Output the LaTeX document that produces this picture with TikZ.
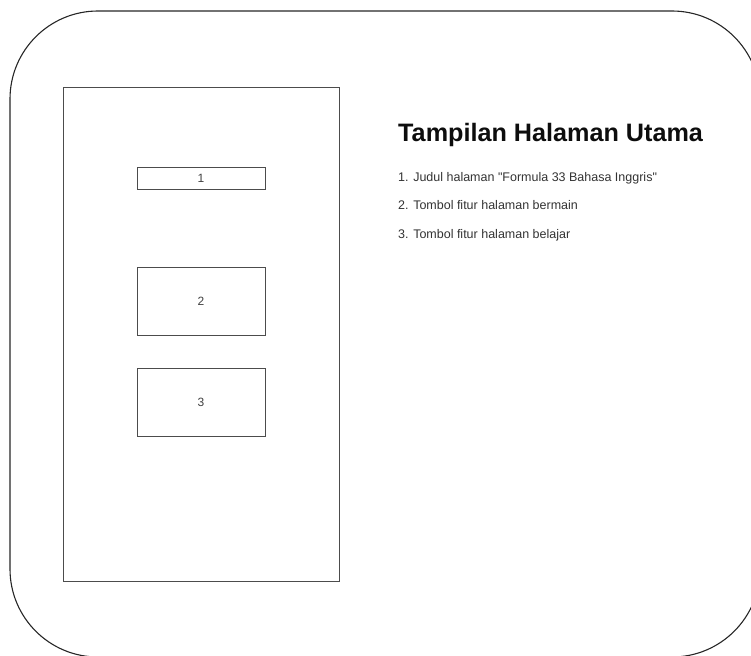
\documentclass[tikz,border=0pt]{standalone}
\usepackage{fontspec}
\setmainfont{Liberation Sans}[Ligatures=TeXOff]
\begin{document}
\begin{tikzpicture}[x=1pt,y=-1pt,
  frame/.style={draw=black!85,line width=1.1pt},
  widget/.style={draw=black!70,line width=1pt},
  numlabel/.style={font=\fontsize{12}{14}\selectfont,text=black!75},
  itemtext/.style={anchor=base west,inner sep=0pt,font=\fontsize{12.5}{15}\selectfont,text=black!80}]
  \useasboundingbox (0,0) rectangle (751,655);
  \begin{scope}
    \clip (0,0) rectangle (751,655);
    % outer rounded panel
    \draw[frame,rounded corners=88pt] (10,11) rectangle (760,657);
  \end{scope}
  % phone screen
  \draw[widget] (63,88) rectangle (339,581);
  \node[widget,numlabel,minimum width=128pt,minimum height=22pt,inner sep=0pt] (b1) at (201,178) {1};
  \node[widget,numlabel,minimum width=128pt,minimum height=68pt,inner sep=0pt] (b2) at (201,301) {2};
  \node[widget,numlabel,minimum width=128pt,minimum height=68pt,inner sep=0pt] (b3) at (201,402) {3};
  % description
  \node[anchor=base west,inner sep=0pt,font=\bfseries\fontsize{25.2}{29}\selectfont,text=black!95] (title) at (398,142) {Tampilan Halaman Utama};
  \node[itemtext] (i1) at (398,181) {1. Judul halaman "Formula 33 Bahasa Inggris"};
  \node[itemtext] (i2) at (398,209) {2. Tombol fitur halaman bermain};
  \node[itemtext] (i3) at (398,238) {3. Tombol fitur halaman belajar};
\end{tikzpicture}
\end{document}
